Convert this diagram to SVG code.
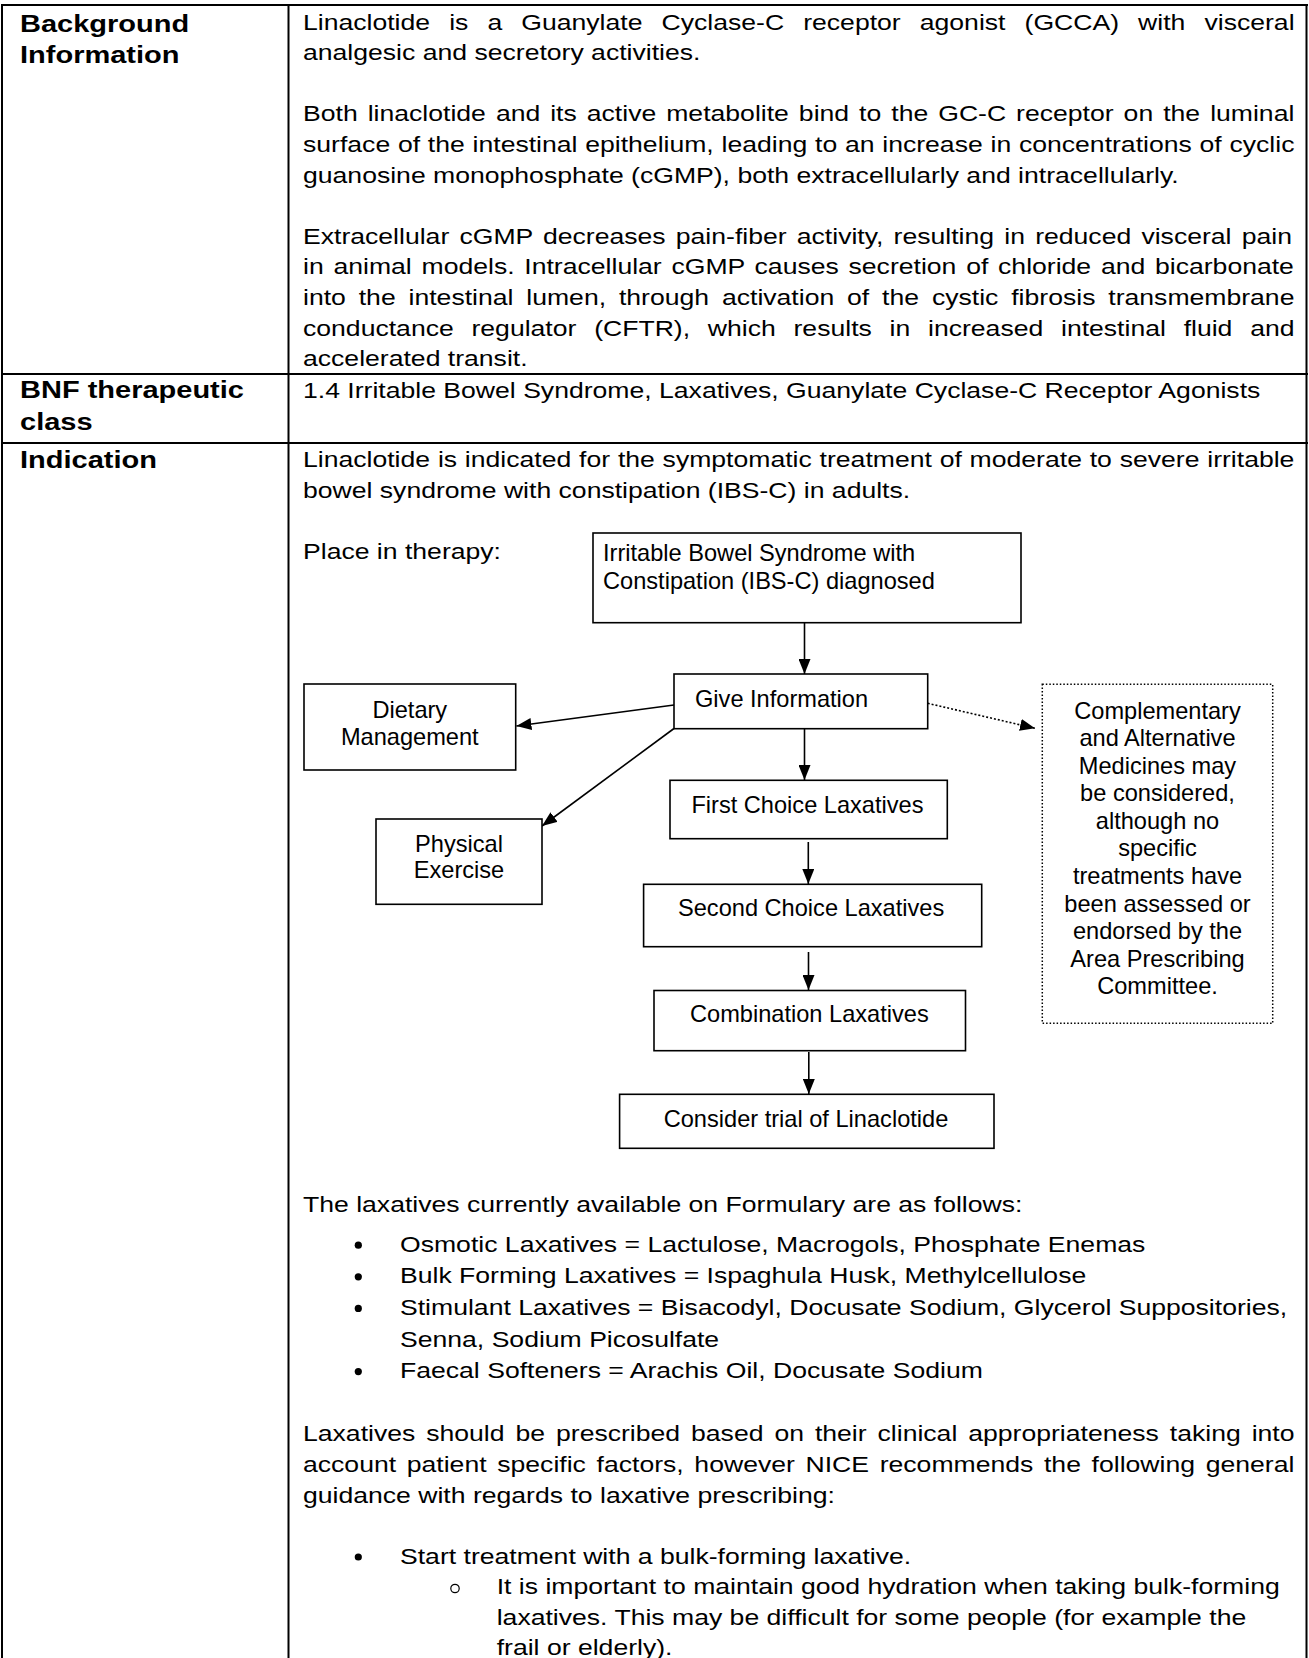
<svg xmlns="http://www.w3.org/2000/svg" width="1309" height="1658" viewBox="0 0 1309 1658">
<style>
.b{font-family:"Liberation Sans",Arial,sans-serif;font-size:22px;fill:#000}
.lbl{font-family:"Liberation Sans",Arial,sans-serif;font-size:24px;font-weight:bold;fill:#000}
.fc{font-family:"Liberation Sans",Arial,sans-serif;font-size:23.6px;fill:#000}
.mid{text-anchor:middle}
.tl{stroke:#000;stroke-width:2;fill:none}
.box{fill:#fff;stroke:#000;stroke-width:1.6}
.dbox{fill:#fff;stroke:#000;stroke-width:1.5;stroke-dasharray:1.5 2}
.conn{stroke:#000;stroke-width:1.6;fill:none}
.dotted{stroke-dasharray:2 2}
</style>
<defs>
<marker id="ah" markerUnits="userSpaceOnUse" markerWidth="15" markerHeight="12" refX="15" refY="6" orient="auto">
<path d="M0,0 L15,6 L0,12 z" fill="#000"/>
</marker>
</defs>
<rect width="1309" height="1658" fill="#fff"/>
<g id="table">
<path class="tl" d="M1,5 H1308 M2,4 V1658 M1306.5,4 V1658 M288.5,4 V1658 M1,374 H1308 M1,443 H1308"/>
</g>
<g id="labels">
<text class="lbl" transform="translate(20 31.5) scale(1.209 1)">Background</text>
<text class="lbl" transform="translate(20 63) scale(1.209 1)">Information</text>
<text class="lbl" transform="translate(20 397.5) scale(1.209 1)">BNF therapeutic</text>
<text class="lbl" transform="translate(20 430) scale(1.209 1)">class</text>
<text class="lbl" transform="translate(20 468) scale(1.209 1)">Indication</text>
</g>
<g id="background-text">
<text class="b" style="word-spacing:9.67px" transform="translate(303 29.5) scale(1.209 1)">Linaclotide is a Guanylate Cyclase-C receptor agonist (GCCA) with visceral</text>
<text class="b" transform="translate(303 60.1) scale(1.209 1)">analgesic and secretory activities.</text>
<text class="b" style="word-spacing:2.16px" transform="translate(303 121.3) scale(1.209 1)">Both linaclotide and its active metabolite bind to the GC-C receptor on the luminal</text>
<text class="b" style="word-spacing:0.31px" transform="translate(303 151.9) scale(1.209 1)">surface of the intestinal epithelium, leading to an increase in concentrations of cyclic</text>
<text class="b" transform="translate(303 182.5) scale(1.209 1)">guanosine monophosphate (cGMP), both extracellularly and intracellularly.</text>
<text class="b" style="word-spacing:2.32px" transform="translate(303 243.7) scale(1.209 1)">Extracellular cGMP decreases pain-fiber activity, resulting in reduced visceral pain</text>
<text class="b" style="word-spacing:1.96px" transform="translate(303 274.3) scale(1.209 1)">in animal models. Intracellular cGMP causes secretion of chloride and bicarbonate</text>
<text class="b" style="word-spacing:4.53px" transform="translate(303 304.9) scale(1.209 1)">into the intestinal lumen, through activation of the cystic fibrosis transmembrane</text>
<text class="b" style="word-spacing:8.57px" transform="translate(303 335.5) scale(1.209 1)">conductance regulator (CFTR), which results in increased intestinal fluid and</text>
<text class="b" transform="translate(303 366.1) scale(1.209 1)">accelerated transit.</text>
</g>
<g id="bnf-text">
<text class="b" transform="translate(303 398.3) scale(1.209 1)">1.4 Irritable Bowel Syndrome, Laxatives, Guanylate Cyclase-C Receptor Agonists</text>
</g>
<g id="indication-text">
<text class="b" style="word-spacing:0.34px" transform="translate(303 466.7) scale(1.209 1)">Linaclotide is indicated for the symptomatic treatment of moderate to severe irritable</text>
<text class="b" transform="translate(303 497.7) scale(1.209 1)">bowel syndrome with constipation (IBS-C) in adults.</text>
<text class="b" transform="translate(303 559) scale(1.209 1)">Place in therapy:</text>
<text class="b" transform="translate(303 1211.7) scale(1.209 1)">The laxatives currently available on Formulary are as follows:</text>
<circle cx="358.3" cy="1245.2" r="3.6"/>
<text class="b" transform="translate(400 1251.7) scale(1.209 1)">Osmotic Laxatives = Lactulose, Macrogols, Phosphate Enemas</text>
<circle cx="358.3" cy="1276.8" r="3.6"/>
<text class="b" transform="translate(400 1283.3) scale(1.209 1)">Bulk Forming Laxatives = Ispaghula Husk, Methylcellulose</text>
<circle cx="358.3" cy="1308.4" r="3.6"/>
<text class="b" transform="translate(400 1314.9) scale(1.209 1)">Stimulant Laxatives = Bisacodyl, Docusate Sodium, Glycerol Suppositories,</text>
<text class="b" transform="translate(400 1346.5) scale(1.209 1)">Senna, Sodium Picosulfate</text>
<circle cx="358.3" cy="1371.6" r="3.6"/>
<text class="b" transform="translate(400 1378.1) scale(1.209 1)">Faecal Softeners = Arachis Oil, Docusate Sodium</text>
<text class="b" style="word-spacing:2.94px" transform="translate(303 1441) scale(1.209 1)">Laxatives should be prescribed based on their clinical appropriateness taking into</text>
<text class="b" style="word-spacing:2.72px" transform="translate(303 1471.8) scale(1.209 1)">account patient specific factors, however NICE recommends the following general</text>
<text class="b" transform="translate(303 1502.5) scale(1.209 1)">guidance with regards to laxative prescribing:</text>
<circle cx="358.3" cy="1557" r="3.6"/>
<text class="b" transform="translate(400 1563.5) scale(1.209 1)">Start treatment with a bulk-forming laxative.</text>
<circle cx="455" cy="1588.5" r="4.2" fill="none" stroke="#000" stroke-width="1.2"/>
<text class="b" transform="translate(496.7 1594) scale(1.209 1)">It is important to maintain good hydration when taking bulk-forming</text>
<text class="b" transform="translate(496.7 1624.5) scale(1.209 1)">laxatives. This may be difficult for some people (for example the</text>
<text class="b" transform="translate(496.7 1655) scale(1.209 1)">frail or elderly).</text>
</g>
<g id="connectors">
<line class="conn" x1="804.5" y1="623" x2="804.5" y2="674" marker-end="url(#ah)"/>
<line class="conn" x1="804.5" y1="729" x2="804.5" y2="780" marker-end="url(#ah)"/>
<line class="conn" x1="808.3" y1="842" x2="808.3" y2="884" marker-end="url(#ah)"/>
<line class="conn" x1="808.5" y1="952" x2="808.5" y2="990" marker-end="url(#ah)"/>
<line class="conn" x1="808.8" y1="1052" x2="808.8" y2="1094" marker-end="url(#ah)"/>
<line class="conn" x1="674" y1="705" x2="516.4" y2="726" marker-end="url(#ah)"/>
<line class="conn" x1="674" y1="728.5" x2="542" y2="826" marker-end="url(#ah)"/>
<line class="conn dotted" x1="927.7" y1="703.3" x2="1035" y2="728.3" marker-end="url(#ah)"/>
</g>
<g id="n-ibs">
<rect class="box" x="593" y="533" width="428" height="89.7"/>
<text class="fc" x="603" y="561">Irritable Bowel Syndrome with</text>
<text class="fc" x="603" y="589">Constipation (IBS-C) diagnosed</text>
</g>
<g id="n-give-info">
<rect class="box" x="674" y="674" width="253.7" height="54.7"/>
<text class="fc" x="695" y="707">Give Information</text>
</g>
<g id="n-dietary">
<rect class="box" x="304" y="684" width="211.7" height="86"/>
<text class="fc mid" x="409.8" y="718">Dietary</text>
<text class="fc mid" x="409.8" y="745">Management</text>
</g>
<g id="n-physical">
<rect class="box" x="376" y="819" width="166" height="85.3"/>
<text class="fc mid" x="459" y="851.7">Physical</text>
<text class="fc mid" x="459" y="878.3">Exercise</text>
</g>
<g id="n-first">
<rect class="box" x="670" y="780.3" width="277.3" height="58.4"/>
<text class="fc" x="691.4" y="812.7">First Choice Laxatives</text>
</g>
<g id="n-second">
<rect class="box" x="643.6" y="884.3" width="338.1" height="62.4"/>
<text class="fc" x="678" y="916">Second Choice Laxatives</text>
</g>
<g id="n-combination">
<rect class="box" x="654" y="990.5" width="311.5" height="60.2"/>
<text class="fc" x="690" y="1021.7">Combination Laxatives</text>
</g>
<g id="n-consider">
<rect class="box" x="619.6" y="1094.3" width="374.4" height="54"/>
<text class="fc mid" x="806" y="1126.7">Consider trial of Linaclotide</text>
</g>
<g id="n-complementary">
<rect class="dbox" x="1042.3" y="684.3" width="230.4" height="339"/>
<text class="fc mid" x="1157.5" y="718.5">Complementary</text>
<text class="fc mid" x="1157.5" y="746.1">and Alternative</text>
<text class="fc mid" x="1157.5" y="773.6">Medicines may</text>
<text class="fc mid" x="1157.5" y="801.2">be considered,</text>
<text class="fc mid" x="1157.5" y="828.8">although no</text>
<text class="fc mid" x="1157.5" y="856.3">specific</text>
<text class="fc mid" x="1157.5" y="883.9">treatments have</text>
<text class="fc mid" x="1157.5" y="911.5">been assessed or</text>
<text class="fc mid" x="1157.5" y="939.1">endorsed by the</text>
<text class="fc mid" x="1157.5" y="966.6">Area Prescribing</text>
<text class="fc mid" x="1157.5" y="994.2">Committee.</text>
</g>
</svg>
